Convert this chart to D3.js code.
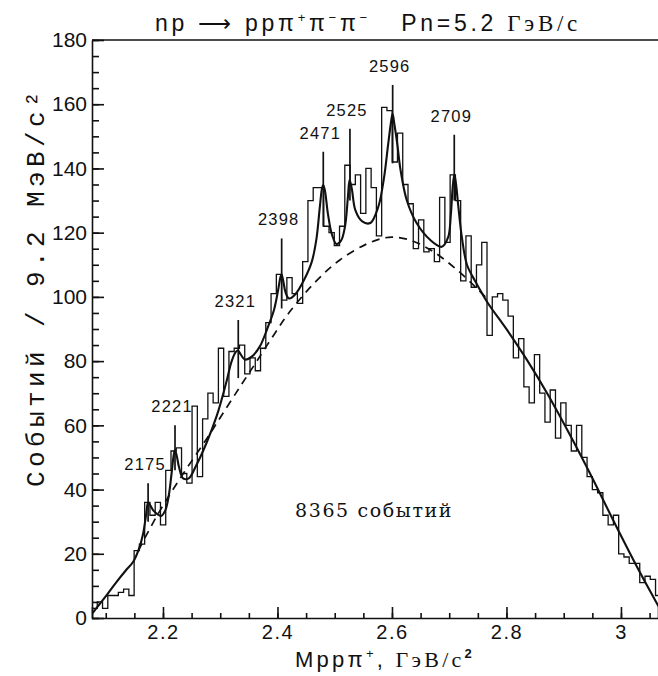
<!DOCTYPE html>
<html>
<head>
<meta charset="utf-8">
<script src="https://cdn.jsdelivr.net/npm/d3@7"></script>
<style>
  body { margin: 0; background: #fff; }
  text { font-family: 'Liberation Sans', Arial, sans-serif; fill: #111; }
</style>
</head>
<body>
<script>
// histogram: 9.2 MeV bins starting at left edge of the axis
const binStart = 2.076;
const binWidth = 0.0092;
const counts = [3, 5, 3, 7, 7, 8, 9, 7, 21, 23,
    36, 32, 36, 29, 46, 52, 53, 45, 42, 66,
    44, 62, 70, 67, 84, 69, 83, 84, 85, 76,
    81, 77, 84, 92, 101, 107, 99, 106, 101, 98,
    111, 130, 134, 134, 122, 120, 116, 122, 141, 135,
    138, 126, 140, 134, 119, 159, 158, 142, 151, 135,
    129, 115, 124, 114, 115, 111, 131, 117, 138, 130,
    105, 119, 103, 110, 117, 88, 100, 101, 99, 94,
    81, 87, 72, 67, 82, 70, 61, 71, 56, 67,
    60, 52, 60, 50, 44, 40, 39, 32, 29, 32,
    20, 19, 17, 17, 11, 13, 12, 7];

// background (dashed)
const bgMass = [2.157, 2.19, 2.23, 2.277, 2.311, 2.34, 2.364, 2.393, 2.422, 2.468,
    2.509, 2.556, 2.585, 2.603, 2.635, 2.673, 2.713, 2.748, 2.766];
const bgVal = [21, 32, 43.5, 56, 65.5, 73.5, 80, 88, 95.5, 105,
    111.5, 116.5, 118.3, 118.6, 117.5, 114, 108.5, 102.7, 99.5];

// full fit (solid)
const fitMass = [2.077, 2.09, 2.104, 2.12, 2.135, 2.148, 2.158, 2.165, 2.17, 2.174,
    2.178, 2.183, 2.189, 2.197, 2.204, 2.21, 2.215, 2.219, 2.221, 2.224,
    2.228, 2.235, 2.245, 2.258, 2.276, 2.294, 2.31, 2.32, 2.327, 2.331,
    2.336, 2.343, 2.355, 2.369, 2.382, 2.394, 2.401, 2.405, 2.407, 2.41,
    2.414, 2.42, 2.432, 2.447, 2.46, 2.468, 2.474, 2.478, 2.48, 2.483,
    2.488, 2.495, 2.503, 2.511, 2.518, 2.523, 2.526, 2.53, 2.536, 2.548,
    2.562, 2.576, 2.586, 2.593, 2.598, 2.601, 2.604, 2.609, 2.615, 2.626,
    2.643, 2.667, 2.687, 2.698, 2.703, 2.706, 2.709, 2.712, 2.716, 2.722,
    2.731, 2.745, 2.766, 2.801, 2.836, 2.871, 2.911, 2.946, 2.995, 3.034, 3.066];
const fitVal = [1.5, 4.5, 7.7, 11.5, 14.8, 17.5, 21.5, 26, 31.5, 36,
    35, 33.5, 32.5, 31.8, 33.5, 38, 45, 51, 52.3, 50.5,
    47, 43.5, 43.5, 47.5, 54.5, 63, 73, 80, 82.8, 83.3,
    82, 80.5, 81.4, 84.5, 90, 96, 102, 106, 107, 105,
    101.5, 99.5, 101, 105.5, 111, 118, 128, 134, 134.8, 133,
    126, 119.5, 116.5, 117.5, 122, 131, 136.5, 133.5, 127, 123.5,
    123, 128, 137, 147, 154, 157, 154, 148, 139.5, 130,
    123, 117.7, 115.6, 118.5, 126, 134, 138.2, 135, 128, 118.7,
    110, 105, 98.5, 89.7, 80.3, 70, 57, 45, 27.4, 13.9, 3.5];

// resonance marks
const peakLabels = ['2175', '2221', '2321', '2398', '2471', '2525', '2596', '2709'];
const peakMass = [2.174, 2.221, 2.3315, 2.4073, 2.48, 2.5266, 2.6012, 2.7088];
const peakTop = [42, 60, 92.8, 118.2, 145.2, 152.4, 166, 150.5];
const peakBottom = [30, 46, 74.7, 96.4, 121.9, 130, 141.6, 130];

const yTicks = [0, 20, 40, 60, 80, 100, 120, 140, 160, 180];
const xTicks = [2.2, 2.4, 2.6, 2.8, 3];
const xTickLabels = ['2.2', '2.4', '2.6', '2.8', '3'];
const totalText = '8365 событий';

const svgValues = {
    width: 658,
    height: 676,
    padding: { top: 40, bottom: 58, left: 92, right: 0 }
};

// spread a text's letters so it fills a given width
function fitWidth(sel, width) {
    const w = sel.node().getComputedTextLength();
    const n = sel.text().length;
    sel.style('letter-spacing', ((width - w) / n) + 'px');
}

function makeSvg() {
    const svg = d3.select('body')
        .append('svg')
        .attr('width', svgValues.width)
        .attr('height', svgValues.height);

    // title
    const title = svg.append('text')
        .attr('x', 155)
        .attr('y', 31)
        .style('font-size', '23px');
    title.append('tspan').text('np \u27f6 pp\u03c0');
    title.append('tspan').attr('dy', -9).style('font-size', '13px').text('+');
    title.append('tspan').attr('dy', 9).text('\u03c0');
    title.append('tspan').attr('dy', -9).style('font-size', '13px').text('\u2212');
    title.append('tspan').attr('dy', 9).text('\u03c0');
    title.append('tspan').attr('dy', -9).style('font-size', '13px').text('\u2212');
    title.append('tspan').attr('dy', 9).text('\u00a0\u00a0\u00a0Pn=5.2 ');
    title.append('tspan').style('font-family', "'Liberation Serif', serif").text('ГэВ/c');
    fitWidth(title, 426);

    return svg;
}

function makeScalesAndAxes(svg) {
    const p = svgValues.padding;
    const xScale = d3.scaleLinear()
        .domain([2.076, 3.0647])
        .range([p.left, svgValues.width - p.right]);
    const yScale = d3.scaleLinear()
        .domain([0, 180])
        .range([svgValues.height - p.bottom, p.top]);

    const bottom = svgValues.height - p.bottom;

    // x minor ticks every 0.05
    svg.append('g')
        .attr('transform', 'translate(0,' + bottom + ')')
        .call(d3.axisBottom(xScale).tickValues(d3.range(2.1, 3.06, 0.05)).tickSize(-5).tickFormat(''))
        .call(g => g.select('.domain').remove());
    // x major ticks + labels
    svg.append('g')
        .attr('transform', 'translate(0,' + bottom + ')')
        .call(d3.axisBottom(xScale).tickValues(xTicks).tickSize(-11).tickPadding(7)
            .tickFormat((d, i) => xTickLabels[i]))
        .call(g => g.selectAll('text').style('font-size', '20px').style('letter-spacing', '1.5px'));

    // y minor ticks every 5
    svg.append('g')
        .attr('transform', 'translate(' + p.left + ',0)')
        .call(d3.axisLeft(yScale).tickValues(d3.range(0, 181, 5)).tickSize(-7).tickFormat(''))
        .call(g => g.select('.domain').remove());
    // y major ticks + labels
    svg.append('g')
        .attr('transform', 'translate(' + p.left + ',0)')
        .call(d3.axisLeft(yScale).tickValues(yTicks).tickSize(-12).tickSizeOuter(0).tickPadding(5))
        .call(g => g.selectAll('text').attr('x', -5).style('font-size', '21px'));

    svg.selectAll('.domain, .tick line').attr('stroke', '#111').attr('stroke-width', 1.6);

    // top frame line
    svg.append('line')
        .attr('x1', xScale.range()[0]).attr('x2', xScale.range()[1])
        .attr('y1', yScale(180)).attr('y2', yScale(180))
        .attr('stroke', '#111').attr('stroke-width', 1.6);

    // axis titles
    const xt = svg.append('text')
        .attr('x', 295)
        .attr('y', 667)
        .style('font-size', '22px');
    xt.append('tspan').text('Mpp\u03c0');
    xt.append('tspan').attr('dy', -9).style('font-size', '13px').text('+');
    xt.append('tspan').attr('dy', 9).text(', ');
    xt.append('tspan').style('font-family', "'Liberation Serif', serif").text('ГэВ/c');
    xt.append('tspan').attr('dy', -9).style('font-size', '13px').style('font-weight', 'bold').text('2');
    fitWidth(xt, 180);

    svg.append('text')
        .attr('transform', 'translate(44,287) rotate(-90)')
        .attr('text-anchor', 'middle')
        .style('font-family', "'Liberation Mono', monospace")
        .style('font-size', '26px')
        .style('letter-spacing', '4.4px')
        .text('Событий / 9.2 МэВ/c²');

    return [xScale, yScale];
}

function makeHistogram(svg, xScale, yScale) {
    const p = svgValues.padding;
    svg.append('clipPath')
        .attr('id', 'plot-clip')
        .append('rect')
        .attr('x', p.left)
        .attr('y', p.top)
        .attr('width', svgValues.width - p.left - p.right)
        .attr('height', svgValues.height - p.top - p.bottom);

    const plot = svg.append('g').attr('clip-path', 'url(#plot-clip)');

    // step outline of the histogram
    const steps = counts.map((c, i) => [binStart + i * binWidth, c]);
    steps.push([binStart + counts.length * binWidth, counts[counts.length - 1]]);

    plot.append('path')
        .datum(steps)
        .attr('fill', 'none')
        .attr('stroke', '#111')
        .attr('stroke-width', 1.3)
        .attr('d', d3.line()
            .x(d => xScale(d[0]))
            .y(d => yScale(d[1]))
            .curve(d3.curveStepAfter));

    // background
    plot.append('path')
        .datum(bgMass.map((m, i) => [m, bgVal[i]]))
        .attr('fill', 'none')
        .attr('stroke', '#111')
        .attr('stroke-width', 1.7)
        .attr('stroke-dasharray', '8,6')
        .attr('d', d3.line()
            .x(d => xScale(d[0]))
            .y(d => yScale(d[1]))
            .curve(d3.curveCatmullRom));

    // total fit
    plot.append('path')
        .datum(fitMass.map((m, i) => [m, fitVal[i]]))
        .attr('fill', 'none')
        .attr('stroke', '#111')
        .attr('stroke-width', 2.1)
        .attr('d', d3.line()
            .x(d => xScale(d[0]))
            .y(d => yScale(d[1]))
            .curve(d3.curveCatmullRom));

    // peak markers
    plot.selectAll('.peak-line')
        .data(peakMass)
        .enter()
        .append('line')
        .attr('class', 'peak-line')
        .attr('x1', d => xScale(d)).attr('x2', d => xScale(d))
        .attr('y1', (d, i) => yScale(peakTop[i]))
        .attr('y2', (d, i) => yScale(peakBottom[i]))
        .attr('stroke', '#111')
        .attr('stroke-width', 1.7);

    svg.selectAll('.peak-label')
        .data(peakLabels)
        .enter()
        .append('text')
        .attr('class', 'peak-label')
        .attr('x', (d, i) => xScale(peakMass[i]) - 3)
        .attr('y', (d, i) => yScale(peakTop[i]) - 13)
        .attr('text-anchor', 'middle')
        .style('font-size', '16.5px')
        .style('letter-spacing', '1.2px')
        .text(d => d);

    svg.append('text')
        .attr('x', 295)
        .attr('y', 517)
        .style('font-family', "'DejaVu Serif', serif")
        .style('font-size', '19px')
        .style('letter-spacing', '1.6px')
        .text(totalText);
}

const svg = makeSvg();
const [xScale, yScale] = makeScalesAndAxes(svg);
makeHistogram(svg, xScale, yScale);
</script>
</body>
</html>
